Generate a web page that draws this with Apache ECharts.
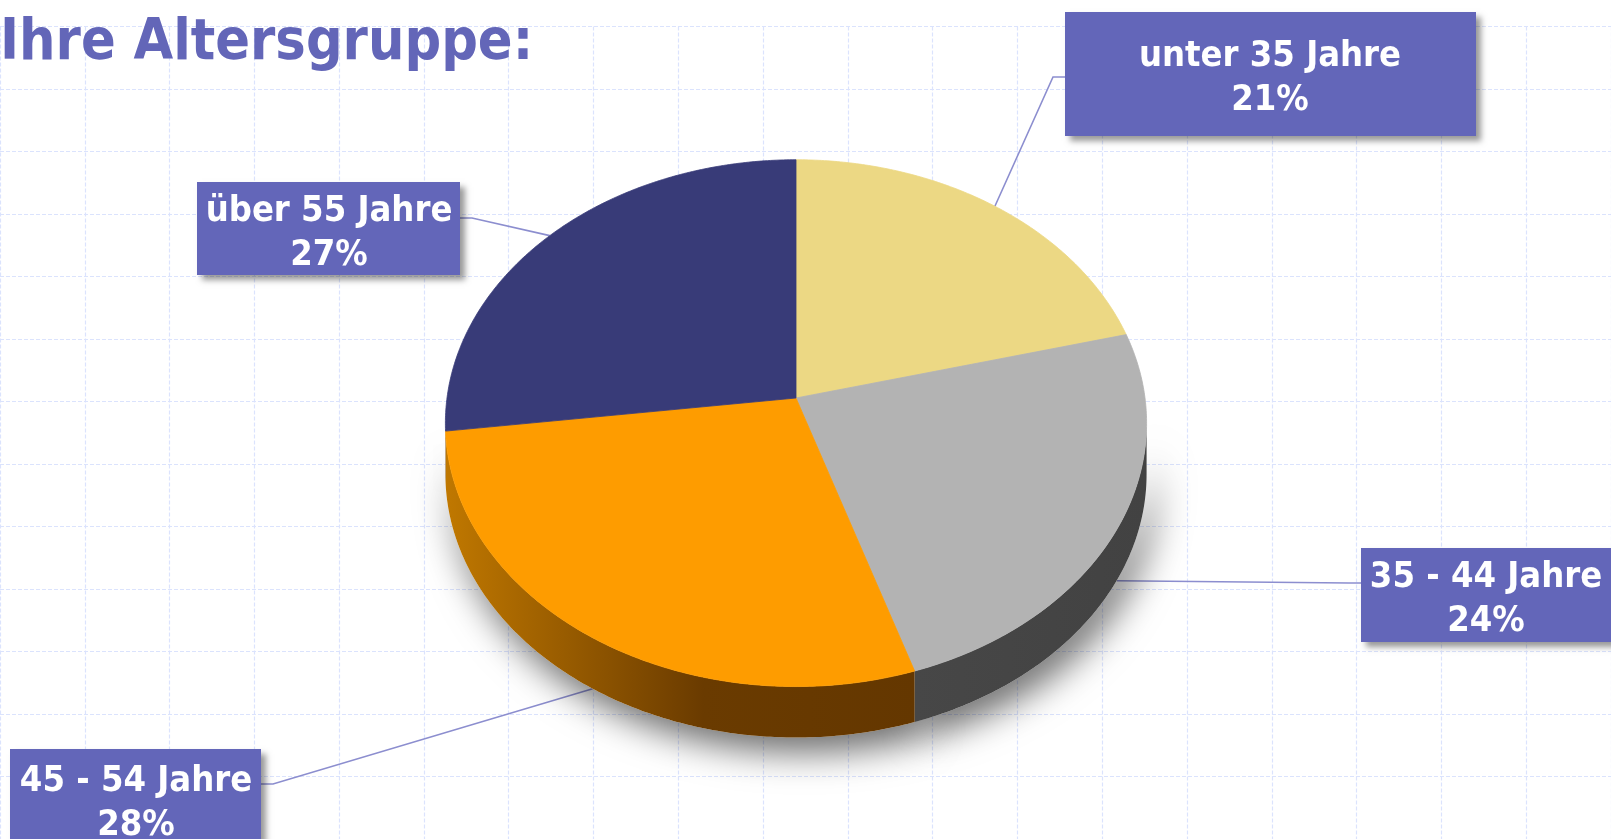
<!DOCTYPE html>
<html>
<head>
<meta charset="utf-8">
<style>
  html, body { margin: 0; padding: 0; background: #fff; }
  #chart { width: 1611px; height: 839px; }
</style>
<script src="https://cdn.jsdelivr.net/npm/echarts@6/dist/echarts.min.js"></script>
</head>
<body>
<div id="chart"></div>
<script>
const ageGroups = ['unter 35 Jahre', '35 - 44 Jahre', '45 - 54 Jahre', 'über 55 Jahre'];
const shares = [21, 24, 28, 27];

const topColors = ['#ecd884', '#b3b3b3', '#fe9c00', '#383b78'];
const sideStops = [
    [[0, '#a89654'], [1, '#a89654']],
    [[0, '#474747'], [1, '#424242']],
    [[0, '#c07800'], [0.55, '#6a3b00'], [1, '#643700']],
    [[0, '#24274f'], [1, '#24274f']]
];

const fontFamily = '"DejaVu Sans Condensed", "DejaVu Sans", sans-serif';
const boxColor = '#6366b9';
const lineColor = '#8c8ecf';

// label boxes (px) and where the leader line leaves the box
const labelBoxes = [
    { x: 1065, y: 12, w: 411, h: 124, tx: 1270, side: 'left', ly: 77 },
    { x: 1361, y: 548, w: 260, h: 94, tx: 1486, side: 'left', ly: 583 },
    { x: 10, y: 749, w: 251, h: 100, tx: 136, side: 'right', ly: 784 },
    { x: 197, y: 182, w: 263, h: 93, tx: 329, side: 'right', ly: 218 }
];

// tilted pie: centre, radii, perspective factor, thickness
const pie = { cx: 796, cy: 398, sx: 349, sy: 261, p: 0.0955, depth: 51 };

const total = shares.reduce((s, v) => s + v, 0);

function proj(a) {
    const k = 1 + pie.p * Math.sin(a);
    return [pie.cx + pie.sx * Math.cos(a) / k, pie.cy - pie.sy * Math.sin(a) / k];
}

function sliceAngles(i) {
    let before = 0;
    for (let j = 0; j < i; j++) before += shares[j];
    const a0 = Math.PI / 2 - 2 * Math.PI * before / total;
    const a1 = a0 - 2 * Math.PI * shares[i] / total;
    return [a0, a1];
}

function arc(from, to, dy) {
    const pts = [];
    const n = Math.max(2, Math.ceil(Math.abs(from - to) / 0.01));
    for (let k = 0; k <= n; k++) {
        const pt = proj(from + (to - from) * k / n);
        pts.push([pt[0], pt[1] + dy]);
    }
    return pts;
}

function sidePoints(i) {
    const [a0, a1] = sliceAngles(i);
    const lim = Math.asin(pie.p);
    const hi = Math.min(a0, -lim);
    const lo = Math.max(a1, -Math.PI + lim);
    if (hi <= lo) return null;
    return arc(hi, lo, 0).concat(arc(lo, hi, pie.depth));
}

function renderShadow (params) {
    const pts = sidePoints(params.dataIndex);
    if (!pts) return null;
    return {
        type: 'polygon',
        shape: { points: pts },
        style: {
            fill: '#fff',
            shadowBlur: 36,
            shadowOffsetX: 8,
            shadowOffsetY: 14,
            shadowColor: 'rgba(0, 0, 0, 0.6)'
        }
    };
}

function renderSide (params) {
    const i = params.dataIndex;
    const pts = sidePoints(i);
    if (!pts) return null;
    const stops = sideStops[i].map(s => ({ offset: s[0], color: s[1] }));
    return {
        type: 'polygon',
        shape: { points: pts },
        style: { fill: new echarts.graphic.LinearGradient(0, 0, 1, 0, stops) }
    };
}

function renderTop (params) {
    const i = params.dataIndex;
    const [a0, a1] = sliceAngles(i);
    return {
        type: 'polygon',
        shape: { points: [[pie.cx, pie.cy]].concat(arc(a0, a1, 0)) },
        style: { fill: topColors[i], stroke: topColors[i], lineWidth: 0.8 }
    };
}

function renderLeader (params) {
    const i = params.dataIndex;
    const [a0, a1] = sliceAngles(i);
    const mid = (a0 + a1) / 2;
    const pt = proj(mid);
    if (Math.sin(mid) < 0) pt[1] += pie.depth;
    const b = labelBoxes[i];
    const bx = b.side === 'left' ? b.x : b.x + b.w;
    const ex = b.side === 'left' ? bx - 12 : bx + 12;
    return {
        type: 'polyline',
        shape: { points: [[bx, b.ly], [ex, b.ly], pt] },
        style: { stroke: lineColor, lineWidth: 1.6, fill: null }
    };
}

function renderLabel (params) {
    const i = params.dataIndex;
    const b = labelBoxes[i];
    return {
        type: 'group',
        children: [
            {
                type: 'rect',
                shape: { x: b.x, y: b.y, width: b.w, height: b.h },
                style: {
                    fill: boxColor,
                    shadowBlur: 6,
                    shadowOffsetX: 5,
                    shadowOffsetY: 5,
                    shadowColor: 'rgba(0, 0, 0, 0.4)'
                }
            },
            {
                type: 'text',
                x: b.tx,
                y: b.y + b.h / 2 + 5,
                style: {
                    text: ageGroups[i] + '\n' + shares[i] + '%',
                    fill: '#fff',
                    font: 'bold 36px ' + fontFamily,
                    align: 'center',
                    verticalAlign: 'middle',
                    lineHeight: 44
                }
            }
        ]
    };
}

const chart = echarts.init(document.getElementById('chart'));
const data = shares.map((v, i) => ({ name: ageGroups[i], value: v }));
const gridLine = { show: true, lineStyle: { color: '#dbe3fd', type: [4, 2], width: 1.2 } };

const option = {
    animation: false,
    backgroundColor: '#fff',
    title: {
        text: 'Ihre Altersgruppe:',
        left: -5,
        top: 11,
        textStyle: { color: '#6366b8', fontSize: 57, fontWeight: 'bold', fontFamily: fontFamily }
    },
    grid: { left: -4.4, top: 26.6, width: 85.4 * 19, height: 63.8 * 13 },
    xAxis: {
        type: 'value', min: 0, max: 19, interval: 1,
        axisLine: { show: false }, axisTick: { show: false }, axisLabel: { show: false },
        splitLine: gridLine
    },
    yAxis: {
        type: 'value', min: 0, max: 13, interval: 1,
        axisLine: { show: false }, axisTick: { show: false }, axisLabel: { show: false },
        splitLine: gridLine
    },
    series: [
        { type: 'custom', coordinateSystem: 'none', z: 1, silent: true, renderItem: renderLeader, data: data },
        { type: 'custom', coordinateSystem: 'none', z: 2, silent: true, renderItem: renderShadow, data: data },
        { type: 'custom', coordinateSystem: 'none', z: 3, renderItem: renderSide, data: data },
        { type: 'custom', coordinateSystem: 'none', z: 4, renderItem: renderTop, data: data },
        { type: 'custom', coordinateSystem: 'none', z: 5, renderItem: renderLabel, data: data }
    ]
};
chart.setOption(option);
</script>
</body>
</html>
